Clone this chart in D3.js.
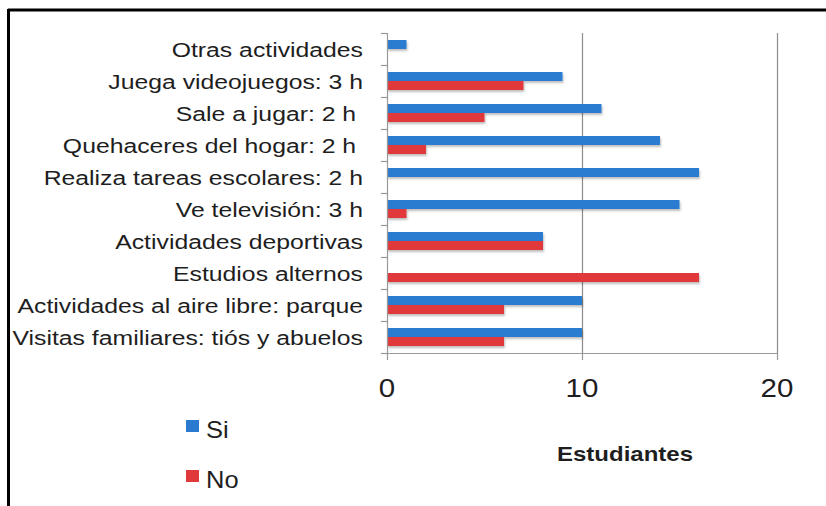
<!DOCTYPE html>
<html>
<head>
<meta charset="utf-8">
<script src="https://cdn.jsdelivr.net/npm/d3@7"></script>
<style>
html,body{margin:0;padding:0;background:#fff;}
svg{display:block;}
text{font-family:"Liberation Sans",Arial,Helvetica,sans-serif;fill:#1e1e1e;white-space:pre;}
</style>
</head>
<body>
<script>
const categories = [
  "Otras actividades",
  "Juega videojuegos: 3 h",
  "Sale a jugar: 2 h ",
  "Quehaceres del hogar: 2 h ",
  "Realiza tareas escolares: 2 h",
  "Ve televisión: 3 h",
  "Actividades deportivas",
  "Estudios alternos",
  "Actividades al aire libre: parque",
  "Visitas familiares: tiós y abuelos"
];
const siValues = [1, 9, 11, 14, 16, 15, 8, 0, 10, 10];
const noValues = [0, 7, 5, 2, 0, 1, 8, 16, 6, 6];
const seriesNames = ["Si", "No"];
const seriesColors = ["#2a7bd0", "#e1383b"];
const xTicks = [0, 10, 20];
const xTitle = "Estudiantes";

const W = 826, H = 506;
const svg = d3.select("body").append("svg").attr("width", W).attr("height", H);

// frame (top and left borders only)
svg.append("line").attr("x1", 8).attr("x2", W).attr("y1", 10).attr("y2", 10)
  .attr("stroke", "#000").attr("stroke-width", 3);
svg.append("line").attr("x1", 8.5).attr("x2", 8.5).attr("y1", 9).attr("y2", H)
  .attr("stroke", "#000").attr("stroke-width", 3);

const defs = svg.append("defs");
const f = defs.append("filter").attr("id", "sh").attr("x", "-5%").attr("y", "-50%").attr("width", "115%").attr("height", "220%");
f.append("feDropShadow").attr("dx", 1).attr("dy", 2).attr("stdDeviation", 1.2)
  .attr("flood-color", "#000").attr("flood-opacity", 0.25);

const x = d3.scaleLinear().domain([0, 20]).range([387, 777]);
const rows = d3.scaleBand().domain(categories).range([33, 353]);
const y = d3.scaleBand().domain(categories).range([33, 353]).paddingInner(0.4375).paddingOuter(0.21875);
const ySub = d3.scaleBand().domain(seriesNames).range([0, y.bandwidth()]);

const STRETCH = 1.18;

// gridlines
svg.append("g").selectAll("line").data(xTicks.filter(t => t > 0)).join("line")
  .attr("x1", d => x(d) + 0.5).attr("x2", d => x(d) + 0.5)
  .attr("y1", 33).attr("y2", 353)
  .attr("stroke", "#8c8c8c").attr("stroke-width", 1.2);

// bars
const data = [];
categories.forEach((c, i) => {
  data.push({cat: c, s: "Si", v: siValues[i], color: seriesColors[0]});
  data.push({cat: c, s: "No", v: noValues[i], color: seriesColors[1]});
});
svg.append("g").attr("filter", "url(#sh)").selectAll("rect").data(data.filter(d => d.v > 0)).join("rect")
  .attr("x", x(0))
  .attr("y", d => y(d.cat) + ySub(d.s))
  .attr("width", d => x(d.v) - x(0))
  .attr("height", ySub.bandwidth())
  .attr("fill", d => d.color);

// y axis line + ticks at row boundaries
const axisColor = "#999";
svg.append("line").attr("x1", x(0) + 0.5).attr("x2", x(0) + 0.5).attr("y1", 33).attr("y2", 353)
  .attr("stroke", axisColor).attr("stroke-width", 1.2);
const bounds = categories.map(c => rows(c)).concat([353]);
svg.append("g").selectAll("line").data(bounds).join("line")
  .attr("x1", x(0) - 6).attr("x2", x(0))
  .attr("y1", d => d + 0.5).attr("y2", d => d + 0.5)
  .attr("stroke", axisColor).attr("stroke-width", 1.2);

// x axis line + ticks
svg.append("line").attr("x1", x(0)).attr("x2", x(20) + 1).attr("y1", 353.5).attr("y2", 353.5)
  .attr("stroke", axisColor).attr("stroke-width", 1.2);
svg.append("g").selectAll("line").data(xTicks).join("line")
  .attr("x1", d => x(d) + 0.5).attr("x2", d => x(d) + 0.5)
  .attr("y1", 353).attr("y2", 360)
  .attr("stroke", axisColor).attr("stroke-width", 1.2);

// category labels
svg.append("g").selectAll("g").data(categories).join("g")
  .attr("transform", d => `translate(363,${rows(d) + rows.bandwidth() / 2}) scale(${STRETCH},1)`)
  .append("text")
  .attr("text-anchor", "end").attr("dy", "0.36em")
  .style("font-size", "21px")
  .text(d => d);

// x tick labels
svg.append("g").selectAll("g").data(xTicks).join("g")
  .attr("transform", d => `translate(${x(d)},397) scale(${STRETCH},1)`)
  .append("text").attr("text-anchor", "middle")
  .style("font-size", "25px")
  .text(d => d);

// axis title
svg.append("g").attr("transform", `translate(625,461) scale(1.2,1)`)
  .append("text").attr("text-anchor", "middle")
  .style("font-size", "20px").style("font-weight", "bold")
  .text(xTitle);

// legend
const leg = svg.append("g").selectAll("g").data(seriesNames).join("g")
  .attr("transform", (d, i) => `translate(186,${420 + i * 50})`);
leg.append("rect").attr("width", 13).attr("height", 12)
  .attr("fill", (d, i) => seriesColors[i]);
leg.append("g").attr("transform", `translate(20,18) scale(${STRETCH * 0.9},1)`)
  .append("text").style("font-size", "24px").text(d => d);
</script>
</body>
</html>
